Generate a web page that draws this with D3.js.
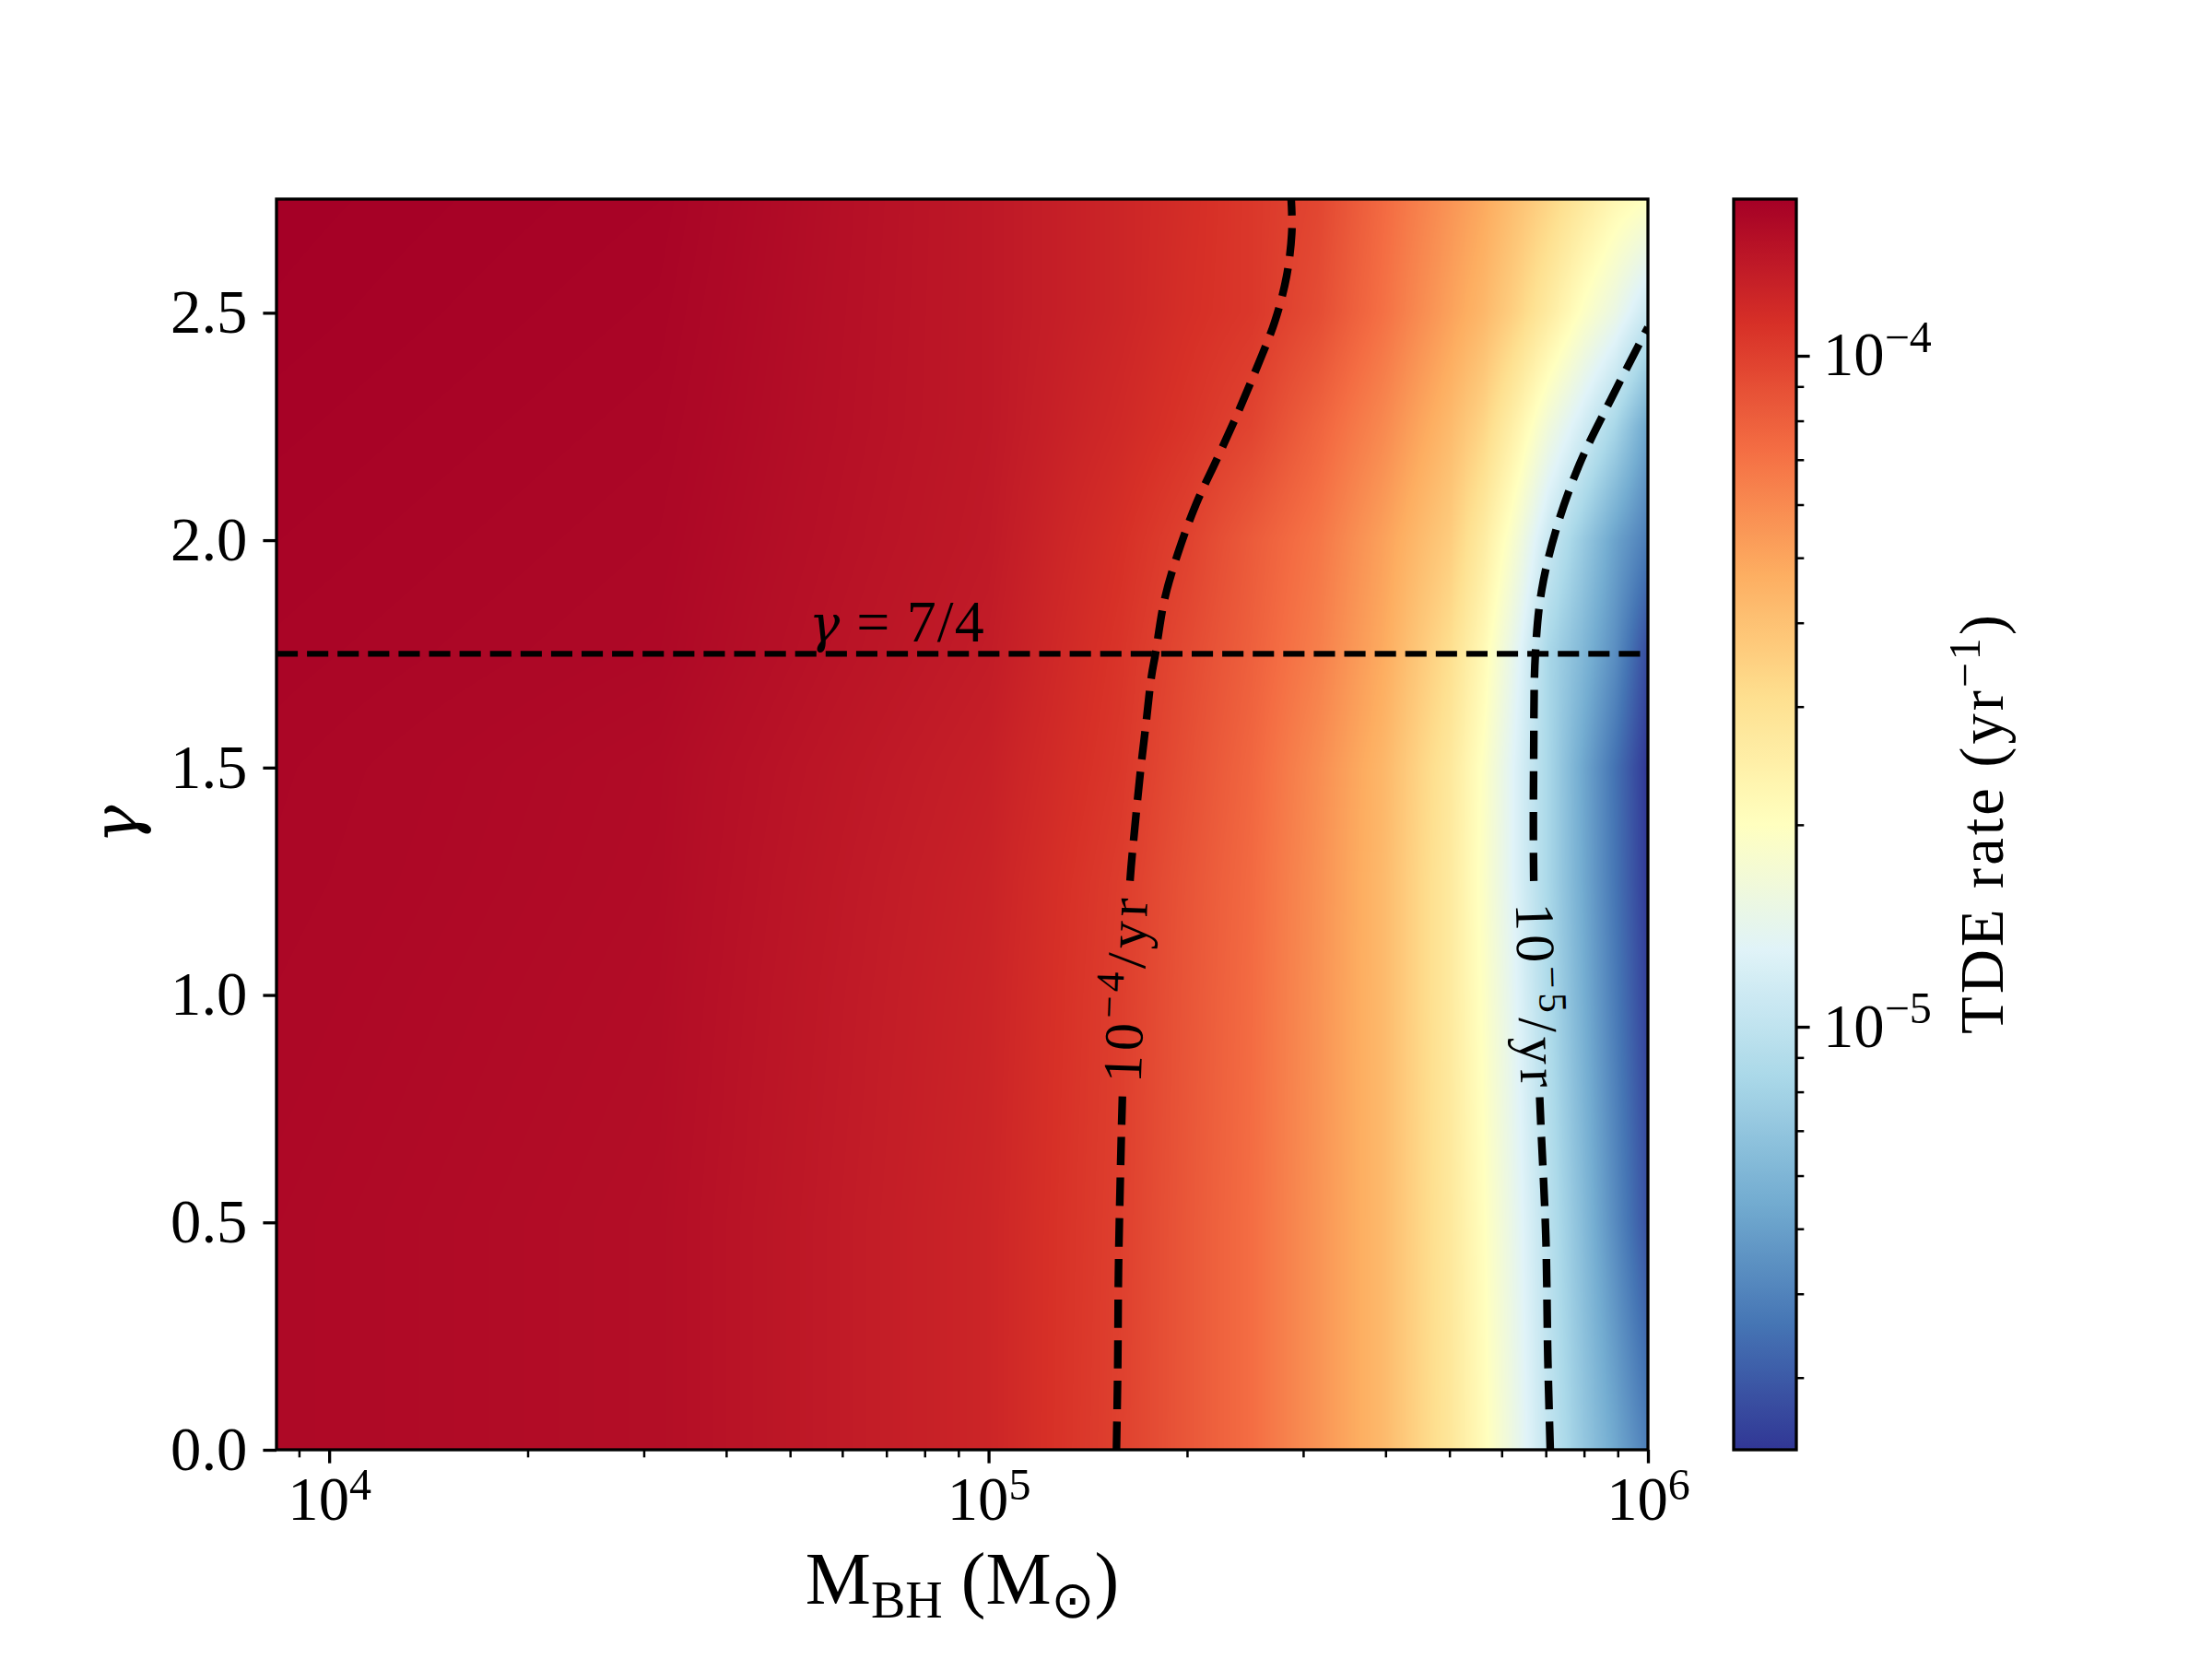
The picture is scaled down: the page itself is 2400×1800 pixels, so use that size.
<!DOCTYPE html>
<html>
<head>
<meta charset="utf-8">
<script src="https://cdn.jsdelivr.net/npm/d3@7"></script>
<style>
  body { margin: 0; background: #fff; }
  svg text { font-family: "Liberation Serif", "DejaVu Serif", serif; fill: #000; white-space: pre; }
  .greek { font-family: "DejaVu Serif", serif; font-style: italic; }
</style>
</head>
<body>
<svg id="chart" width="2400" height="1800"></svg>
<script>
// ---- values ----
// rate map grid: columns are log10(M_BH / Msun), rows are gamma
var logMass = [3.92, 4.5, 5.0, 5.2, 5.3, 5.4, 5.5, 5.6, 5.7, 5.75, 5.8, 5.85, 5.9, 5.95, 6.0];
var gammaRows = [0, 0.5, 1.0, 1.25, 1.5, 1.75, 2.0, 2.25, 2.5, 2.75];
// log10 TDE rate (1/yr), one row per gamma
var logRate = [
  [-3.80, -3.82, -3.91, -4.004, -4.07, -4.14, -4.25, -4.37, -4.55, -4.675, -4.83, -4.995, -5.14, -5.27, -5.41],
  [-3.80, -3.82, -3.91, -4.00, -4.07, -4.14, -4.25, -4.37, -4.56, -4.69, -4.85, -5.02, -5.19, -5.37, -5.55],
  [-3.795, -3.815, -3.905, -3.995, -4.065, -4.135, -4.245, -4.37, -4.57, -4.71, -4.88, -5.06, -5.24, -5.42, -5.60],
  [-3.792, -3.812, -3.90, -3.99, -4.06, -4.13, -4.24, -4.37, -4.57, -4.72, -4.90, -5.08, -5.26, -5.44, -5.62],
  [-3.79, -3.81, -3.89, -3.975, -4.045, -4.12, -4.23, -4.36, -4.56, -4.71, -4.90, -5.08, -5.27, -5.45, -5.63],
  [-3.785, -3.80, -3.875, -3.965, -4.03, -4.10, -4.19, -4.32, -4.51, -4.66, -4.86, -5.08, -5.21, -5.36, -5.57],
  [-3.78, -3.795, -3.865, -3.95, -4.005, -4.085, -4.165, -4.29, -4.44, -4.58, -4.76, -4.97, -5.13, -5.29, -5.42],
  [-3.775, -3.79, -3.86, -3.925, -3.965, -4.015, -4.11, -4.22, -4.37, -4.47, -4.62, -4.79, -4.93, -5.08, -5.28],
  [-3.77, -3.785, -3.86, -3.91, -3.945, -3.975, -4.04, -4.15, -4.29, -4.36, -4.46, -4.58, -4.71, -4.82, -4.97],
  [-3.7665, -3.78, -3.86, -3.91, -3.94, -3.975, -4.02, -4.13, -4.25, -4.31, -4.39, -4.47, -4.56, -4.65, -4.70]
];

// contour 1e-4 /yr
var c4Gamma = [0, 0.18, 0.39, 0.61, 0.78, 1.0, 1.24, 1.37, 1.5, 1.6, 1.7, 1.75, 1.87, 1.97, 2.08, 2.18, 2.28, 2.38, 2.48, 2.58, 2.68, 2.75];
var c4Mass  = [1.563e5, 1.570e5, 1.574e5, 1.585e5, 1.596e5, 1.614e5, 1.637e5, 1.667e5, 1.702e5, 1.734e5, 1.766e5, 1.791e5, 1.849e5, 1.936e5, 2.065e5, 2.223e5, 2.388e5, 2.553e5, 2.716e5, 2.831e5, 2.884e5, 2.877e5];
// contour 1e-5 /yr
var c5Gamma = [0, 0.2, 0.47, 0.78, 1.0, 1.26, 1.52, 1.75, 1.89, 2.03, 2.17, 2.31, 2.468];
var c5Mass  = [7.11e5, 7.05e5, 7.00e5, 6.85e5, 6.78e5, 6.71e5, 6.71e5, 6.75e5, 6.90e5, 7.28e5, 7.89e5, 8.79e5, 1.0e6];

var massRange = [8.32e3, 1e6];
var gammaRange = [0, 2.75];
var rateRange = [2.342e-6, 1.712e-4];
var xMajor = [1e4, 1e5, 1e6];
var yTicks = [0, 0.5, 1.0, 1.5, 2.0, 2.5];
var cbarMajor = [1e-5, 1e-4];
var refGamma = 1.75;
var refLabelMass = 5.34e4;
var rdylbu = ["#a50026","#d73027","#f46d43","#fdae61","#fee090","#ffffbf","#e0f3f8","#abd9e9","#74add1","#4575b4","#313695"];

// ---- layout ----
var svg = d3.select("#chart");
var W = 2400, H = 1800;
var plotLeft = 300, plotTop = 216, plotW = 1488, plotH = 1357;
var cbX = 1881, cbW = 68;
var tickFont = 66.7, labelFont = 80, clabelFont = 60;
var majLen = 14.6, minLen = 8.3, majW = 3.3, minW = 2.5;

svg.append("rect").attr("width", W).attr("height", H).attr("fill", "#fff");

var x = d3.scaleLog().domain(massRange).range([plotLeft, plotLeft + plotW]);
var y = d3.scaleLinear().domain(gammaRange).range([plotTop + plotH, plotTop]);
var cb = d3.scaleLog().domain(rateRange).range([plotTop + plotH, plotTop]);

var vmin = Math.log10(rateRange[0]), vmax = Math.log10(rateRange[1]);
var color = d3.scaleLinear()
  .domain(d3.range(11).map(function(i) { return vmin + i * (vmax - vmin) / 10; }))
  .range(rdylbu.slice().reverse())
  .interpolate(d3.interpolateRgb)
  .clamp(true);

var defs = svg.append("defs");
defs.append("clipPath").attr("id", "plotclip")
  .append("rect").attr("x", plotLeft).attr("y", plotTop).attr("width", plotW).attr("height", plotH);

// ---- heat map (bilinear shading between grid nodes) ----
var lut = d3.range(1024).map(function(i) { return d3.rgb(color(vmin + (vmax - vmin) * i / 1023)); });
function bracket(arr, v) {
  var k = d3.bisectRight(arr, v) - 1;
  k = Math.max(0, Math.min(arr.length - 2, k));
  var t = (v - arr[k]) / (arr[k + 1] - arr[k]);
  return [k, Math.max(0, Math.min(1, t))];
}
var canvas = document.createElement("canvas");
canvas.width = plotW; canvas.height = plotH;
var ctx = canvas.getContext("2d");
var img = ctx.createImageData(plotW, plotH);
var colB = [];
for (var i = 0; i < plotW; i++) colB.push(bracket(logMass, Math.log10(x.invert(plotLeft + i + 0.5))));
for (var j = 0; j < plotH; j++) {
  var rb = bracket(gammaRows, y.invert(plotTop + j + 0.5));
  var r0 = logRate[rb[0]], r1 = logRate[rb[0] + 1], tr = rb[1];
  for (var i2 = 0; i2 < plotW; i2++) {
    var k = colB[i2][0], tc = colB[i2][1];
    var a = r0[k] + (r0[k + 1] - r0[k]) * tc;
    var b = r1[k] + (r1[k + 1] - r1[k]) * tc;
    var v = a + (b - a) * tr;
    var idx = Math.round((v - vmin) / (vmax - vmin) * 1023);
    var c = lut[Math.max(0, Math.min(1023, idx))];
    var p = (j * plotW + i2) * 4;
    img.data[p] = c.r; img.data[p + 1] = c.g; img.data[p + 2] = c.b; img.data[p + 3] = 255;
  }
}
ctx.putImageData(img, 0, 0);
svg.append("image").attr("x", plotLeft).attr("y", plotTop).attr("width", plotW).attr("height", plotH)
  .attr("preserveAspectRatio", "none").attr("href", canvas.toDataURL());

// ---- contours ----
function contourAt(gs, ms, g) {
  var b = bracket(gs, g);
  var lm = Math.log10(ms[b[0]]) + (Math.log10(ms[b[0] + 1]) - Math.log10(ms[b[0]])) * b[1];
  return [x(Math.pow(10, lm)), y(g)];
}
var contours = [
  {exp: "\u22124", g: c4Gamma, m: c4Mass, lg: 1.01},
  {exp: "\u22125", g: c5Gamma, m: c5Mass, lg: 1.0}
];
var mask = defs.append("mask").attr("id", "gaps").attr("maskUnits", "userSpaceOnUse")
  .attr("x", 0).attr("y", 0).attr("width", W).attr("height", H);
mask.append("rect").attr("width", W).attr("height", H).attr("fill", "#fff");
contours.forEach(function(c) {
  var p = contourAt(c.g, c.m, c.lg);
  var lo = contourAt(c.g, c.m, c.lg - 0.25), hi = contourAt(c.g, c.m, c.lg + 0.25);
  var ang = Math.atan2(hi[1] - lo[1], hi[0] - lo[0]) * 180 / Math.PI;
  if (ang < -90) ang += 180;
  if (ang > 90) ang -= 180;
  c.cx = p[0]; c.cy = p[1]; c.ang = ang;
  mask.append("rect").attr("x", -111).attr("y", -32).attr("width", 222).attr("height", 64)
    .attr("fill", "#000").attr("transform", "translate(" + p[0] + "," + p[1] + ") rotate(" + ang + ")");
});

var line = d3.line().x(function(d) { return x(d[1]); }).y(function(d) { return y(d[0]); })
  .curve(d3.curveCatmullRom);
var gc = svg.append("g").attr("clip-path", "url(#plotclip)");
var gl = gc.append("g").attr("mask", "url(#gaps)");
contours.forEach(function(c) {
  gl.append("path").datum(d3.zip(c.g, c.m)).attr("d", line)
    .attr("fill", "none").attr("stroke", "#000").attr("stroke-width", 8.33)
    .attr("stroke-dasharray", "30.8 13.3");
});
contours.forEach(function(c) {
  var t = gc.append("text").attr("transform", "translate(" + c.cx + "," + c.cy + ") rotate(" + c.ang + ")")
    .attr("text-anchor", "middle").attr("y", 0.33 * clabelFont).attr("font-size", clabelFont)
    .attr("textLength", 200).attr("lengthAdjust", "spacing");
  t.append("tspan").text("10");
  t.append("tspan").attr("font-size", clabelFont * 0.72).attr("dy", -0.38 * clabelFont).text(c.exp);
  t.append("tspan").attr("dy", 0.38 * clabelFont).text("/yr");
});

// gamma = 7/4 reference line
gc.append("line").attr("x1", plotLeft).attr("x2", plotLeft + plotW).attr("y1", y(refGamma)).attr("y2", y(refGamma))
  .attr("stroke", "#000").attr("stroke-width", 6.25).attr("stroke-dasharray", "23.1 10");
var rt = gc.append("text").attr("x", x(refLabelMass)).attr("y", y(refGamma) - 13).attr("font-size", 64)
  .attr("textLength", 190).attr("lengthAdjust", "spacing");
rt.append("tspan").attr("class", "greek").attr("font-size", 56).text("\u03b3");
rt.append("tspan").text(" = 7/4");

// frame
svg.append("rect").attr("x", plotLeft).attr("y", plotTop).attr("width", plotW).attr("height", plotH)
  .attr("fill", "none").attr("stroke", "#000").attr("stroke-width", majW);

// ---- x axis ----
var xMinor = [];
[1e3, 1e4, 1e5].forEach(function(dec) {
  for (var m = 2; m <= 9; m++) if (m * dec >= massRange[0] && m * dec <= massRange[1]) xMinor.push(m * dec);
});
var gxm = svg.append("g").attr("transform", "translate(0," + (plotTop + plotH) + ")")
  .call(d3.axisBottom(x).tickValues(xMinor).tickSize(minLen).tickSizeOuter(0).tickFormat(""));
gxm.select(".domain").remove();
gxm.selectAll("line").attr("stroke-width", minW);
var gx = svg.append("g").attr("transform", "translate(0," + (plotTop + plotH) + ")")
  .call(d3.axisBottom(x).tickValues(xMajor).tickSize(majLen).tickSizeOuter(0));
gx.select(".domain").remove();
gx.selectAll("line").attr("stroke-width", majW);
gx.selectAll(".tick text").each(function(d) {
  var t = d3.select(this).text(null).attr("y", 76).attr("dy", null)
    .attr("font-size", tickFont).attr("font-family", null).attr("fill", "#000");
  t.append("tspan").text("10");
  t.append("tspan").attr("font-size", tickFont * 0.72).attr("dy", -0.33 * tickFont).text(Math.round(Math.log10(d)));
});

// ---- y axis ----
var gy = svg.append("g").attr("transform", "translate(" + plotLeft + ",0)")
  .call(d3.axisLeft(y).tickValues(yTicks).tickSize(majLen).tickPadding(17).tickSizeOuter(0).tickFormat(d3.format(".1f")));
gy.select(".domain").remove();
gy.selectAll("line").attr("stroke-width", majW);
gy.selectAll("text").attr("font-size", tickFont).attr("font-family", null).attr("fill", "#000");

// axis labels
var xl = svg.append("text").attr("x", plotLeft + plotW / 2).attr("y", 1740).attr("text-anchor", "middle")
  .attr("font-size", labelFont);
xl.append("tspan").text("M");
xl.append("tspan").attr("font-size", labelFont * 0.7).attr("dy", 15).text("BH");
xl.append("tspan").attr("dy", -15).text(" (M");
xl.append("tspan").attr("font-size", labelFont * 0.7).attr("dy", 15)
  .style("font-family", "'DejaVu Sans', sans-serif").text("\u2299");
xl.append("tspan").attr("dy", -15).text(")");

svg.append("text").attr("class", "greek").attr("transform", "translate(150," + (plotTop + plotH / 2) + ") rotate(-90)")
  .attr("text-anchor", "middle").attr("font-size", 70).text("\u03b3");

// ---- colour bar ----
var grad = defs.append("linearGradient").attr("id", "cbgrad").attr("x1", 0).attr("y1", 0).attr("x2", 0).attr("y2", 1);
d3.range(61).forEach(function(k) {
  var t = k / 60;
  grad.append("stop").attr("offset", t).attr("stop-color", color(vmax - t * (vmax - vmin)));
});
svg.append("rect").attr("x", cbX).attr("y", plotTop).attr("width", cbW).attr("height", plotH).attr("fill", "url(#cbgrad)");
var cbMinor = [];
[1e-6, 1e-5, 1e-4].forEach(function(dec) {
  for (var m = 2; m <= 9; m++) if (m * dec >= rateRange[0] && m * dec <= rateRange[1]) cbMinor.push(m * dec);
});
var gcm = svg.append("g").attr("transform", "translate(" + (cbX + cbW) + ",0)")
  .call(d3.axisRight(cb).tickValues(cbMinor).tickSize(minLen).tickSizeOuter(0).tickFormat(""));
gcm.select(".domain").remove();
gcm.selectAll("line").attr("stroke-width", minW);
var gcb = svg.append("g").attr("transform", "translate(" + (cbX + cbW) + ",0)")
  .call(d3.axisRight(cb).tickValues(cbarMajor).tickSize(majLen).tickSizeOuter(0));
gcb.select(".domain").remove();
gcb.selectAll("line").attr("stroke-width", majW);
gcb.selectAll(".tick text").each(function(d) {
  var t = d3.select(this).text(null).attr("x", 29).attr("dy", null).attr("y", 21)
    .attr("font-size", tickFont).attr("font-family", null).attr("fill", "#000");
  t.append("tspan").text("10");
  t.append("tspan").attr("font-size", tickFont * 0.72).attr("dy", -0.38 * tickFont)
    .text("\u2212" + Math.abs(Math.round(Math.log10(d))));
});
svg.append("rect").attr("x", cbX).attr("y", plotTop).attr("width", cbW).attr("height", plotH)
  .attr("fill", "none").attr("stroke", "#000").attr("stroke-width", majW);

var cl = svg.append("text").attr("transform", "translate(2173," + (plotTop + plotH / 2) + ") rotate(-90)")
  .attr("text-anchor", "middle").attr("font-size", tickFont)
  .attr("textLength", 455).attr("lengthAdjust", "spacing");
cl.append("tspan").text("TDE rate (yr");
cl.append("tspan").attr("font-size", tickFont * 0.72).attr("dy", -0.38 * tickFont).text("\u22121");
cl.append("tspan").attr("dy", 0.38 * tickFont).text(")");
</script>
</body>
</html>
